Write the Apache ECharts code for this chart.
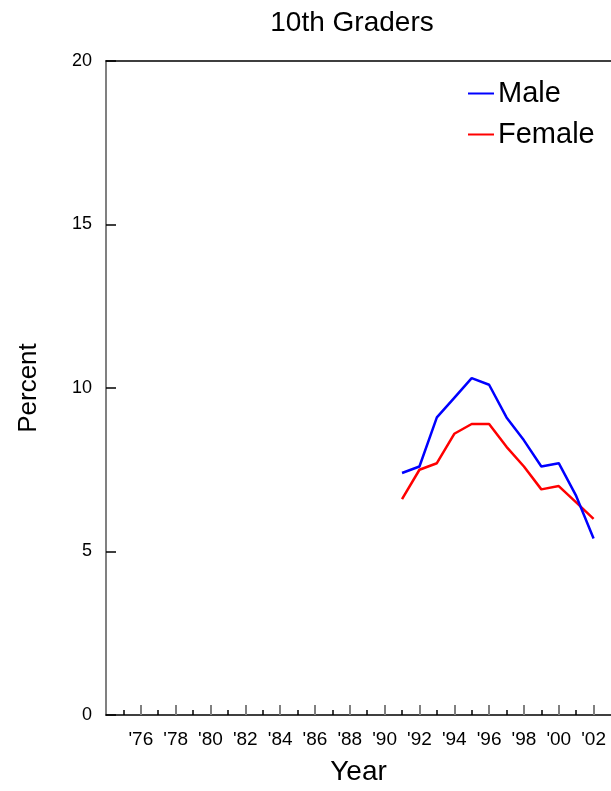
<!DOCTYPE html>
<html>
<head>
<meta charset="utf-8">
<script src="https://cdn.jsdelivr.net/npm/echarts@6/dist/echarts.min.js"></script>
<style>
html,body{margin:0;padding:0;background:#fff;}
#chart{width:611px;height:791px;}
</style>
</head>
<body>
<div id="chart"></div>
<script>
// ---- data ----
var years = [1991, 1992, 1993, 1994, 1995, 1996, 1997, 1998, 1999, 2000, 2001, 2002];
var male = [7.4, 7.6, 9.1, 9.7, 10.3, 10.1, 9.1, 8.4, 7.6, 7.7, 6.7, 5.4];
var female = [6.6, 7.5, 7.7, 8.6, 8.9, 8.9, 8.2, 7.6, 6.9, 7.0, 6.5, 6.0];
var majorTickYears = [1976, 1978, 1980, 1982, 1984, 1986, 1988, 1990, 1992, 1994, 1996, 1998, 2000, 2002];
var majorTickLabels = ["'76", "'78", "'80", "'82", "'84", "'86", "'88", "'90", "'92", "'94", "'96", "'98", "'00", "'02"];
var minorTickYears = [1975, 1977, 1979, 1981, 1983, 1985, 1987, 1989, 1991, 1993, 1995, 1997, 1999, 2001];
var yTicks = [0, 5, 10, 15, 20];

var FONT = 'Liberation Sans, Arial, sans-serif';
var labelMap = {};
majorTickYears.forEach(function (y, i) { labelMap[y] = majorTickLabels[i]; });

function pairs(xs, ys) { return xs.map(function (x, i) { return [x, ys[i]]; }); }

var chart = echarts.init(document.getElementById('chart'));
var grid = { left: 106, right: -3, top: 61, bottom: 75, containLabel: false };
var xMin = 1974, xMax = 2003;

chart.setOption({
  animation: false,
  backgroundColor: '#fff',
  textStyle: { fontFamily: FONT },
  title: {
    text: '10th Graders',
    left: 347,
    textAlign: 'center',
    top: 4,
    textStyle: { fontSize: 28, fontWeight: 'normal', color: '#000', fontFamily: FONT }
  },
  legend: {
    orient: 'vertical',
    left: 468,
    top: 79,
    padding: 0,
    itemWidth: 26,
    itemHeight: 14,
    itemGap: 12,
    icon: 'path://M0,6 L26,6 L26,8 L0,8 Z',
    textStyle: { fontSize: 29, color: '#000', fontFamily: FONT, padding: [0, 0, 0, -1] },
    data: ['Male', 'Female']
  },
  grid: grid,
  xAxis: [
    {
      type: 'value', min: xMin, max: xMax, interval: 2,
      position: 'bottom',
      name: 'Year', nameLocation: 'middle', nameGap: 43,
      nameTextStyle: { fontSize: 28, color: '#000', fontFamily: FONT },
      axisLine: { show: true, onZero: false, lineStyle: { color: '#000', width: 1.5 } },
      axisTick: { show: true, inside: true, length: 10, customValues: majorTickYears, lineStyle: { color: '#808080', width: 2 } },
      axisLabel: {
        show: true, margin: 15, fontSize: 19, color: '#000', fontFamily: FONT,
        customValues: majorTickYears,
        formatter: function (v) { return labelMap[v] || ''; }
      },
      splitLine: { show: false }
    },
    {
      type: 'value', min: xMin, max: xMax, interval: 1,
      position: 'bottom',
      axisLine: { show: false, onZero: false },
      axisTick: { show: true, inside: true, length: 5, customValues: minorTickYears, lineStyle: { color: '#000', width: 1.5 } },
      axisLabel: { show: false },
      splitLine: { show: false }
    },
    {
      type: 'value', min: xMin, max: xMax,
      position: 'top',
      axisLine: { show: true, onZero: false, lineStyle: { color: '#000', width: 1.5 } },
      axisTick: { show: false },
      axisLabel: { show: false },
      splitLine: { show: false }
    }
  ],
  yAxis: {
    type: 'value', min: 0, max: 20, interval: 5,
    name: 'Percent', nameLocation: 'middle', nameGap: 64,
    nameTextStyle: { fontSize: 26, color: '#000', fontFamily: FONT },
    axisLine: { show: true, onZero: false, lineStyle: { color: '#808080', width: 2 } },
    axisTick: { show: true, inside: true, length: 10, customValues: yTicks, lineStyle: { color: '#000', width: 1.5 } },
    axisLabel: { show: true, margin: 14, fontSize: 18, color: '#000', fontFamily: FONT },
    splitLine: { show: false }
  },
  series: [
    {
      name: 'Male', type: 'line', xAxisIndex: 0, data: pairs(years, male),
      symbol: 'none', lineStyle: { color: '#0000ff', width: 2.5 }, itemStyle: { color: '#0000ff' }, z: 3
    },
    {
      name: 'Female', type: 'line', xAxisIndex: 0, data: pairs(years, female),
      symbol: 'none', lineStyle: { color: '#ff0000', width: 2.5 }, itemStyle: { color: '#ff0000' }, z: 2
    }
  ]
});
</script>
</body>
</html>
